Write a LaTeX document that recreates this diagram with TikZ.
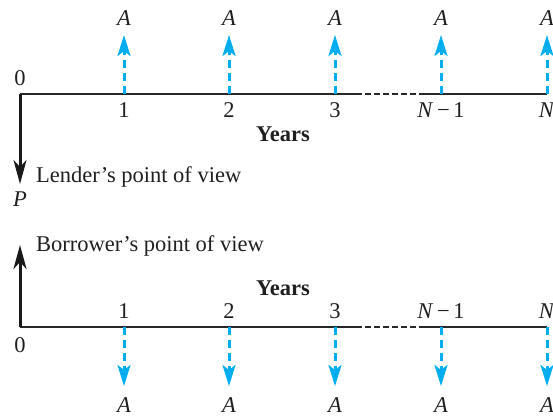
\documentclass[tikz,border=0pt]{standalone}
\usepackage{fontspec}
\setmainfont{Liberation Serif}
\usetikzlibrary{arrows.meta}
\definecolor{cfblue}{RGB}{0,174,239}
\definecolor{axisgray}{RGB}{40,40,40}
\newcommand{\iA}{\textit{A}}
\newcommand{\iNm}{\textit{N}\,−\,1}
\begin{document}
\begin{tikzpicture}[x=1pt,y=-1pt,
  lbl/.style={font=\fontsize{22.5}{26}\selectfont, inner sep=0pt, text=black!88},
  bold/.style={font=\fontsize{22.5}{26}\selectfont\bfseries, inner sep=0pt, text=black!88},
  axisline/.style={line width=2pt, draw=axisgray},
  axisdash/.style={line width=2pt, draw=axisgray, dash pattern=on 6pt off 3pt},
  flow/.style={line width=3pt, draw=cfblue, dash pattern=on 8pt off 5pt,
    -{Stealth[length=21pt,width=13pt,inset=5pt,fill=cfblue]}},
  bigarrow/.style={line width=3pt, draw=black!90,
    -{Stealth[length=24pt,width=13pt,inset=7pt]}}]
\useasboundingbox (0,0) rectangle (553,416);
% ---------- top (lender) ----------
\coordinate (t0) at (20,94);
\coordinate (t1) at (124,94);
\coordinate (t2) at (229,94);
\coordinate (t3) at (335,94);
\coordinate (tda) at (356,94);
\coordinate (tdb) at (420,94);
\coordinate (t4) at (441,94);
\coordinate (t5) at (547,94);
\draw[axisline] (t0) -- (tda);
\draw[axisdash] (tda) -- (tdb);
\draw[axisline] (tdb) -- (t5);
\node[lbl] (z0) at (20,78) {0};
\node[lbl] (n1) at (124,110) {1};
\node[lbl] (n2) at (229,110) {2};
\node[lbl] (n3) at (335,110) {3};
\node[lbl] (n4) at (441,110) {\iNm};
\node[lbl] (n5) at (547,110) {\textit{N}};
\node[bold] (yrs1) at (283,134) {Years};
\coordinate (ta1) at (124,35);
\coordinate (ta2) at (229,35);
\coordinate (ta3) at (335,35);
\coordinate (ta4) at (441,35);
\coordinate (ta5) at (547,35);
\node[lbl] (a1) at (124,18) {\iA};
\node[lbl] (a2) at (229,18) {\iA};
\node[lbl] (a3) at (335,18) {\iA};
\node[lbl] (a4) at (441,18) {\iA};
\node[lbl] (a5) at (547,18) {\iA};
\draw[flow] (t1) -- (ta1);
\draw[flow] (t2) -- (ta2);
\draw[flow] (t3) -- (ta3);
\draw[flow] (t4) -- (ta4);
\draw[flow] (t5) -- (ta5);
\coordinate (pend) at (20,184);
\draw[bigarrow] (t0) -- (pend);
\node[lbl, anchor=west] (lender) at (36,177) {Lender’s point of view};
\node[lbl] (P) at (20,199) {\textit{P}};
% ---------- bottom (borrower) ----------
\coordinate (b0) at (20,327);
\coordinate (b1) at (124,327);
\coordinate (b2) at (229,327);
\coordinate (b3) at (335,327);
\coordinate (bda) at (356,327);
\coordinate (bdb) at (420,327);
\coordinate (b4) at (441,327);
\coordinate (b5) at (547,327);
\draw[axisline] (b0) -- (bda);
\draw[axisdash] (bda) -- (bdb);
\draw[axisline] (bdb) -- (b5);
\coordinate (bend) at (20,245);
\draw[bigarrow] (b0) -- (bend);
\node[lbl, anchor=west] (borrower) at (36,246) {Borrower’s point of view};
\node[bold] (yrs2) at (283,288) {Years};
\node[lbl] (m1) at (124,311) {1};
\node[lbl] (m2) at (229,311) {2};
\node[lbl] (m3) at (335,311) {3};
\node[lbl] (m4) at (441,311) {\iNm};
\node[lbl] (m5) at (547,311) {\textit{N}};
\node[lbl] (zb) at (20,345) {0};
\coordinate (ba1) at (124,386);
\coordinate (ba2) at (229,386);
\coordinate (ba3) at (335,386);
\coordinate (ba4) at (441,386);
\coordinate (ba5) at (547,386);
\draw[flow] (b1) -- (ba1);
\draw[flow] (b2) -- (ba2);
\draw[flow] (b3) -- (ba3);
\draw[flow] (b4) -- (ba4);
\draw[flow] (b5) -- (ba5);
\node[lbl] (c1) at (124,405) {\iA};
\node[lbl] (c2) at (229,405) {\iA};
\node[lbl] (c3) at (335,405) {\iA};
\node[lbl] (c4) at (441,405) {\iA};
\node[lbl] (c5) at (547,405) {\iA};
\end{tikzpicture}
\end{document}
